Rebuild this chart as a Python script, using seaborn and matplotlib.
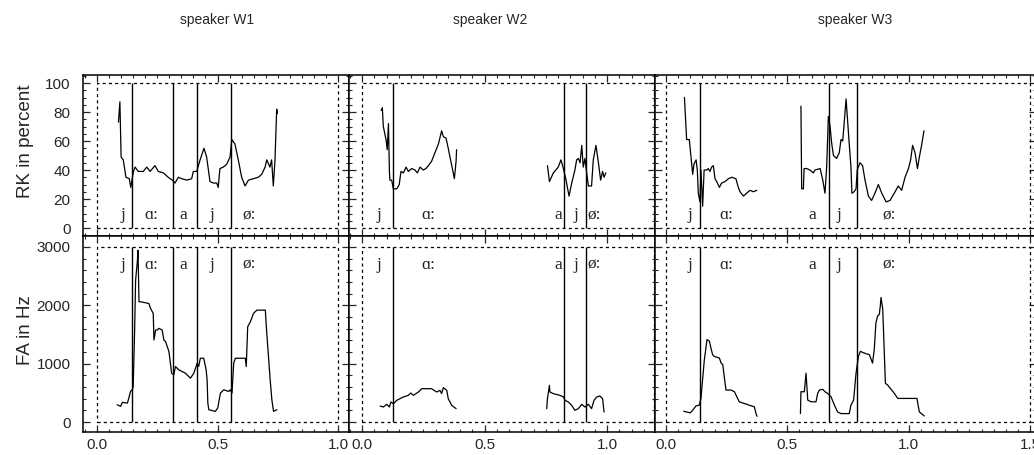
import matplotlib
matplotlib.use("Agg")
import matplotlib.pyplot as plt
from matplotlib.patches import Rectangle
from matplotlib.ticker import MultipleLocator, FormatStrFormatter
import seaborn as sns

speakers = ["speaker W1", "speaker W2", "speaker W3"]
phonemes = ["j", "ɑ:", "a", "j", "ø:"]

# segment boundaries and label positions (time axis)
w1_bounds = [0.148, 0.316, 0.414, 0.555]
w2_bounds = [0.125, 0.823, 0.913]
w3_bounds = [0.142, 0.672, 0.786]
w1_label_t = [0.108, 0.228, 0.360, 0.477, 0.630]
w2_label_t = [0.070, 0.270, 0.803, 0.872, 0.949]
w3_label_t = [0.098, 0.248, 0.602, 0.712, 0.918]
t_max = [1.0, 1.19, 1.5]

# RK in percent
w1_rk_t = [0.090, 0.096, 0.101, 0.110, 0.121, 0.135, 0.141, 0.152, 0.159, 0.172,
           0.193, 0.207, 0.221, 0.241, 0.255, 0.276, 0.296, 0.313, 0.324, 0.338,
           0.352, 0.373, 0.393, 0.400, 0.414, 0.428, 0.444, 0.455, 0.469, 0.483,
           0.497, 0.503, 0.510, 0.524, 0.538, 0.552, 0.559, 0.572, 0.586, 0.600,
           0.614, 0.628, 0.648, 0.669, 0.683, 0.697, 0.704, 0.717, 0.724, 0.731,
           0.738, 0.745, 0.748]
w1_rk = [73, 87, 49, 47, 35, 34, 28, 39, 42, 39,
         39, 42, 39, 43, 39, 38, 35, 33, 31, 35,
         34, 33, 34, 39, 39, 47, 55, 49, 32, 31,
         31, 28, 41, 42, 44, 49, 61, 58, 47, 35,
         29, 33, 34, 35, 37, 42, 47, 42, 47, 29,
         47, 82, 79]

w2_rk_t1 = [0.078, 0.083, 0.087, 0.098, 0.103, 0.108, 0.112, 0.114, 0.121, 0.128,
            0.142, 0.152, 0.159, 0.169, 0.180, 0.189, 0.203, 0.216, 0.226, 0.237,
            0.250, 0.261, 0.271, 0.284, 0.298, 0.312, 0.325, 0.332, 0.343, 0.352,
            0.359, 0.370, 0.377, 0.384, 0.386]
w2_rk1 = [81, 83, 70, 61, 54, 72, 38, 33, 33, 27,
          27, 30, 39, 38, 42, 39, 41, 40, 38, 42,
          40, 41, 43, 46, 52, 58, 67, 63, 62, 55,
          49, 40, 34, 46, 54]
w2_rk_t2 = [0.757, 0.765, 0.781, 0.801, 0.812, 0.822, 0.833, 0.845, 0.856, 0.869,
            0.876, 0.883, 0.890, 0.897, 0.903, 0.910, 0.917, 0.924, 0.937, 0.944,
            0.955, 0.965, 0.974, 0.982, 0.988, 0.995]
w2_rk2 = [43, 32, 38, 42, 47, 41, 33, 22, 31, 40,
          47, 48, 45, 57, 42, 48, 38, 29, 29, 47,
          57, 45, 33, 39, 35, 38]

w3_rk_t1 = [0.076, 0.085, 0.096, 0.110, 0.115, 0.124, 0.129, 0.133, 0.140, 0.144,
            0.151, 0.157, 0.168, 0.174, 0.181, 0.188, 0.195, 0.202, 0.212, 0.220,
            0.229, 0.243, 0.257, 0.271, 0.288, 0.298, 0.305, 0.319, 0.332, 0.346,
            0.360, 0.374]
w3_rk1 = [90, 61, 61, 37, 44, 47, 40, 24, 18, 40,
          15, 40, 40, 41, 39, 42, 43, 34, 31, 28,
          31, 32, 34, 35, 34, 28, 25, 22, 24, 26,
          25, 26]
w3_rk_t2 = [0.556, 0.559, 0.566, 0.569, 0.580, 0.593, 0.607, 0.614, 0.635, 0.646,
            0.655, 0.662, 0.669, 0.676, 0.683, 0.690, 0.703, 0.714, 0.721, 0.728,
            0.733, 0.742, 0.747, 0.755, 0.762, 0.766, 0.775, 0.783, 0.788, 0.799,
            0.810, 0.820, 0.834, 0.847, 0.861, 0.875, 0.889, 0.907, 0.923, 0.944,
            0.957, 0.971, 0.985, 0.999, 1.008, 1.016, 1.026, 1.036, 1.044, 1.053,
            1.063]
w3_rk2 = [84, 27, 27, 41, 41, 40, 38, 40, 41, 33,
          24, 42, 77, 70, 58, 50, 48, 52, 61, 60,
          70, 89, 77, 58, 42, 24, 25, 27, 40, 45,
          43, 33, 22, 19, 24, 30, 24, 18, 19, 25,
          29, 26, 35, 41, 47, 57, 52, 41, 49, 57,
          67]

# FA in Hz
w1_fa_t = [0.085, 0.099, 0.106, 0.127, 0.133, 0.140, 0.147, 0.151, 0.157, 0.161,
           0.168, 0.171, 0.175, 0.182, 0.216, 0.223, 0.234, 0.237, 0.244, 0.250,
           0.257, 0.271, 0.278, 0.285, 0.292, 0.299, 0.305, 0.310, 0.319, 0.326,
           0.340, 0.354, 0.367, 0.388, 0.402, 0.416, 0.422, 0.429, 0.443, 0.453,
           0.457, 0.460, 0.464, 0.491, 0.501, 0.512, 0.526, 0.546, 0.553, 0.560,
           0.567, 0.574, 0.615, 0.619, 0.625, 0.636, 0.649, 0.663, 0.698, 0.703,
           0.718, 0.725, 0.732, 0.746]
w1_fa = [296, 268, 336, 324, 410, 524, 552, 600, 1577, 2430,
         2744, 2943, 2061, 2061, 2032, 1947, 1861, 1406, 1577, 1577,
         1605, 1577, 1406, 1378, 1292, 1207, 1008, 837, 808, 951,
         894, 865, 837, 751, 837, 1008, 951, 1093, 1093, 894,
         723, 324, 211, 182, 239, 495, 552, 524, 552, 495,
         1008, 1093, 1093, 951, 1634, 1719, 1861, 1918, 1918, 1577,
         723, 381, 182, 211]

w2_fa_t1 = [0.074, 0.087, 0.101, 0.112, 0.118, 0.128, 0.142, 0.155, 0.169, 0.189,
            0.199, 0.210, 0.230, 0.244, 0.284, 0.294, 0.305, 0.318, 0.325, 0.332,
            0.346, 0.352, 0.366, 0.384]
w2_fa1 = [274, 257, 303, 257, 343, 314, 371, 400, 429, 457,
          497, 457, 514, 571, 571, 543, 514, 543, 486, 589,
          543, 400, 286, 229]
w2_fa_t2 = [0.754, 0.757, 0.765, 0.767, 0.781, 0.808, 0.822, 0.829, 0.842, 0.856,
            0.869, 0.883, 0.897, 0.910, 0.924, 0.937, 0.947, 0.958, 0.971, 0.982,
            0.988]
w2_fa2 = [229, 400, 629, 514, 486, 457, 429, 371, 343, 286,
          200, 229, 303, 257, 303, 229, 371, 429, 446, 400,
          171]

w3_fa_t1 = [0.073, 0.100, 0.110, 0.124, 0.137, 0.144, 0.158, 0.169, 0.179, 0.185,
            0.192, 0.199, 0.220, 0.227, 0.234, 0.240, 0.247, 0.268, 0.282, 0.295,
            0.302, 0.323, 0.343, 0.364, 0.371, 0.375]
w3_fa1 = [185, 156, 202, 277, 288, 404, 1067, 1413, 1385, 1269,
          1154, 1125, 1096, 1010, 981, 779, 548, 548, 519, 404,
          346, 317, 288, 260, 144, 98]
w3_fa_t2 = [0.554, 0.556, 0.570, 0.577, 0.584, 0.598, 0.618, 0.625, 0.632, 0.646,
            0.655, 0.666, 0.680, 0.694, 0.707, 0.721, 0.755, 0.762, 0.773, 0.783,
            0.793, 0.801, 0.810, 0.824, 0.838, 0.851, 0.858, 0.865, 0.872, 0.879,
            0.883, 0.886, 0.893, 0.900, 0.904, 0.913, 0.941, 0.955, 0.982, 1.034,
            1.040, 1.044, 1.064]
w3_fa2 = [144, 519, 519, 837, 375, 346, 346, 490, 548, 560,
          519, 490, 433, 288, 173, 144, 144, 288, 375, 837,
          1125, 1212, 1194, 1171, 1154, 1010, 1240, 1702, 1817, 1846,
          1990, 2135, 1933, 1125, 663, 635, 490, 404, 404, 404,
          260, 173, 104]

rk_curves = [[(w1_rk_t, w1_rk)],
             [(w2_rk_t1, w2_rk1), (w2_rk_t2, w2_rk2)],
             [(w3_rk_t1, w3_rk1), (w3_rk_t2, w3_rk2)]]
fa_curves = [[(w1_fa_t, w1_fa)],
             [(w2_fa_t1, w2_fa1), (w2_fa_t2, w2_fa2)],
             [(w3_fa_t1, w3_fa1), (w3_fa_t2, w3_fa2)]]
bounds = [w1_bounds, w2_bounds, w3_bounds]
label_t = [w1_label_t, w2_label_t, w3_label_t]

sns.set_style("ticks")
plt.rcParams["font.family"] = ["Liberation Sans", "DejaVu Sans"]

W, H = 1034, 455
fig = plt.figure(figsize=(W / 100, H / 100), dpi=100)

# column layout in pixels: (left, right, pixel of t=0, pixels per second)
cols = [(83, 349, 96.7, 241.6), (349, 655, 362.0, 245.0), (655, 1036, 666.0, 242.7)]
# row layout: (top px, bottom px, px of y=0, px per unit, ymax, label y)
rows = [(75, 235.5, 228.0, 1.45, 100, 6),
        (235.5, 432, 422.0, 175 / 3000, 3000, 2630)]

serif = ["Liberation Serif", "DejaVu Serif"]

for r, (top, bot, y0, ys, ymax, lab_y) in enumerate(rows):
    curves = rk_curves if r == 0 else fa_curves
    for c, (left, right, x0, xs) in enumerate(cols):
        ax = fig.add_axes([left / W, 1 - bot / H, (right - left) / W, (bot - top) / H])
        ax.set_xlim((left - x0) / xs, (right - x0) / xs)
        ax.set_ylim((y0 - bot) / ys, (y0 - top) / ys)

        for t, v in curves[c]:
            sns.lineplot(x=t, y=v, ax=ax, color="black", lw=0.9,
                         sort=False, estimator=None)

        ax.vlines(bounds[c], 0, ymax, color="black", lw=1.0)
        ax.add_patch(Rectangle((0, 0), t_max[c], ymax, fill=False, ec="black",
                               lw=0.9, ls=(0, (2.5, 2.5))))
        for lt, ph in zip(label_t[c], phonemes):
            ax.text(lt, lab_y, ph, ha="center", va="baseline",
                    fontsize=12.5, family=serif)

        ax.xaxis.set_major_locator(MultipleLocator(0.5))
        ax.xaxis.set_minor_locator(MultipleLocator(0.05))
        ax.xaxis.set_major_formatter(FormatStrFormatter("%.1f"))
        if r == 0:
            ax.yaxis.set_major_locator(MultipleLocator(20))
            ax.yaxis.set_minor_locator(MultipleLocator(5))
        else:
            ax.yaxis.set_major_locator(MultipleLocator(1000))
            ax.yaxis.set_minor_locator(MultipleLocator(200))

        ax.tick_params(which="both", direction="in", top=True, right=True,
                       labelsize=11, labelleft=(c == 0), labelbottom=(r == 1))
        ax.tick_params(axis="y", pad=9)
        ax.tick_params(axis="x", pad=4)
        ax.tick_params(which="major", length=5, width=0.9)
        ax.tick_params(which="minor", length=2.5, width=0.8)
        for s in ax.spines.values():
            s.set_linewidth(1.1)
            s.set_color("black")
        ax.set_xlabel("")
        ax.set_ylabel("")

for title, xp in zip(speakers, [217, 490, 855]):
    fig.text(xp / W, 1 - 20 / H, title, ha="center", va="center", fontsize=10)

fig.text(26 / W, 1 - 141 / H, "RK in percent", rotation=90,
         ha="center", va="center", fontsize=13.5)
fig.text(26 / W, 1 - 330 / H, "FA in Hz", rotation=90,
         ha="center", va="center", fontsize=13.5)

fig.savefig("out.png", dpi=100)
